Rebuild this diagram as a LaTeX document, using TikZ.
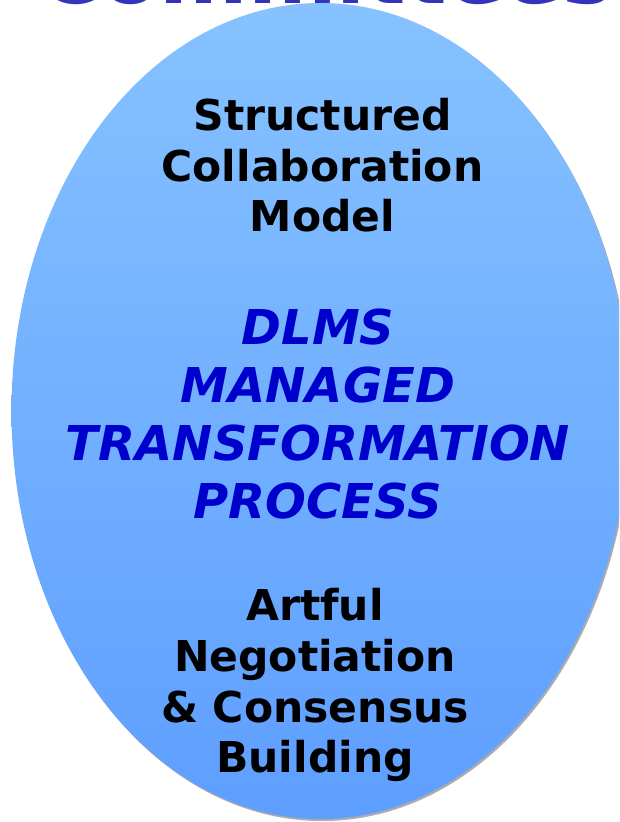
\documentclass[tikz,border=0pt]{standalone}
\usepackage{fontspec}
\setmainfont{DejaVu Sans}
\begin{document}
\begin{tikzpicture}[x=1pt,y=-1pt,
  blk/.style={inner sep=0pt,anchor=base,font=\bfseries\fontsize{42.5}{50}\selectfont,text=black},
  blu/.style={inner sep=0pt,anchor=base,font=\bfseries\itshape\fontsize{48}{56}\selectfont,text=dlblue},
]
\definecolor{dlblue}{RGB}{0,0,204}
\definecolor{cmblue}{RGB}{51,51,187}
\definecolor{topc}{RGB}{134,194,255}
\definecolor{botc}{RGB}{94,158,255}
\path[use as bounding box] (0,0) rectangle (619,822);
\clip (0,0) rectangle (619,822);
% shadow
\fill[gray!65] (322,413) ellipse [x radius=309, y radius=408];
% main oval
\shade[top color=topc, bottom color=botc] (320.5,411) ellipse [x radius=309, y radius=408];
% clipped title (cut off at the top edge, as in the reference)
\node[inner sep=0pt,anchor=base,font=\bfseries\fontsize{85}{90}\selectfont,text=cmblue] (title) at (326,3) {Committees};
% top group
\node[blk] (s1) at (322.5,130) {Structured};
\node[blk] (s2) at (322.5,181) {Collaboration};
\node[blk] (s3) at (322.5,231) {Model};
% blue group
\node[blu] (d1) at (318,344) {DLMS};
\node[blu] (d2) at (318,402) {MANAGED};
\node[blu] (d3) at (318,460) {TRANSFORMATION};
\node[blu] (d4) at (318,518) {PROCESS};
% bottom group
\node[blk] (a1) at (315,620) {Artful};
\node[blk] (a2) at (315,671) {Negotiation};
\node[blk] (a3) at (315,722) {\& Consensus};
\node[blk] (a4) at (315,772) {Building};
\end{tikzpicture}
\end{document}
